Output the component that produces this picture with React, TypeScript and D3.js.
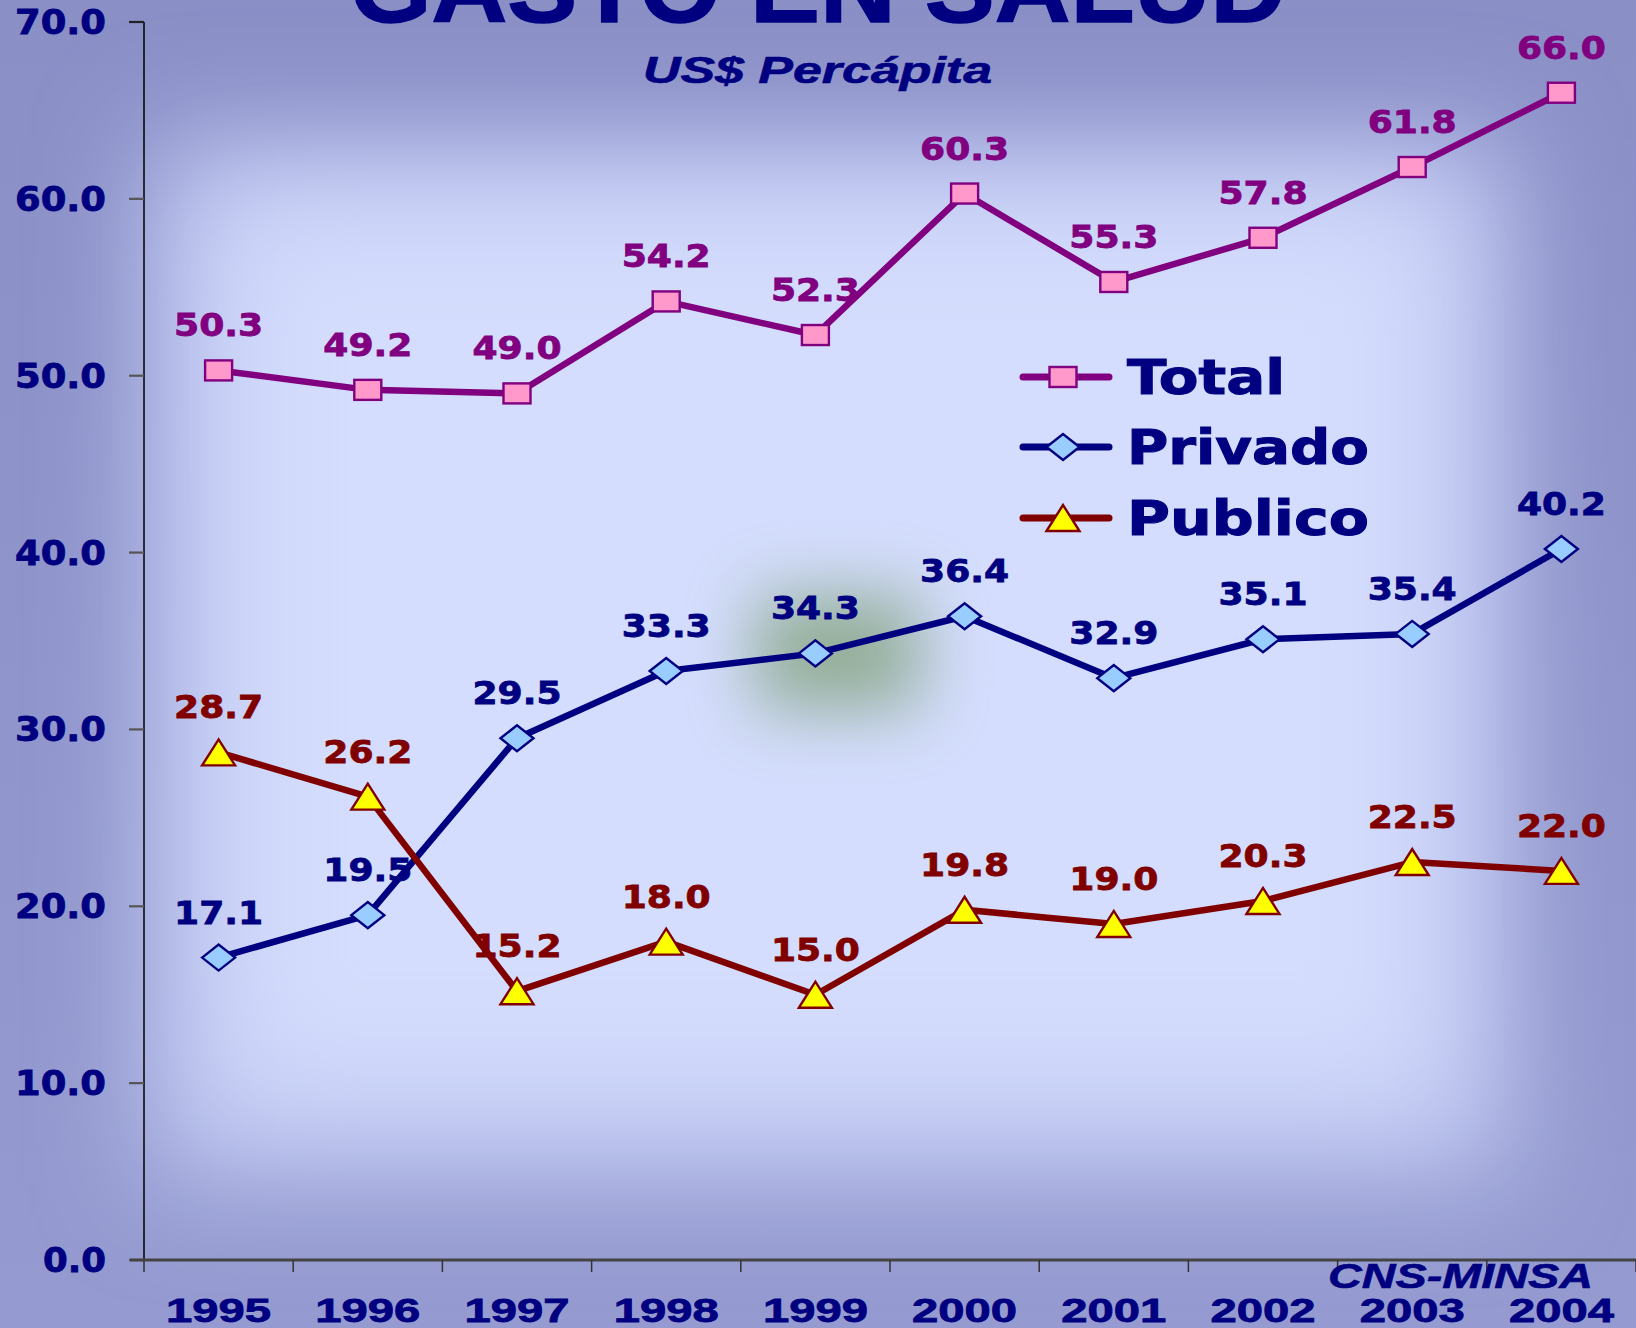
import React from "react";
import * as d3 from "d3";

const years = ["1995", "1996", "1997", "1998", "1999", "2000", "2001", "2002", "2003", "2004"];
const totalValues = [50.3, 49.2, 49.0, 54.2, 52.3, 60.3, 55.3, 57.8, 61.8, 66.0];
const privadoValues = [17.1, 19.5, 29.5, 33.3, 34.3, 36.4, 32.9, 35.1, 35.4, 40.2];
const publicoValues = [28.7, 26.2, 15.2, 18.0, 15.0, 19.8, 19.0, 20.3, 22.5, 22.0];
const yTicks = [0, 10, 20, 30, 40, 50, 60, 70];
const seriesNames = ["Total", "Privado", "Publico"];

const W = 1636;
const H = 1328;
const NAVY = "#000080";

type Series = {
  name: string;
  values: number[];
  line: string;
  fill: string;
  marker: "square" | "diamond" | "triangle";
  labelColor: string;
};

const series: Series[] = [
  { name: seriesNames[0], values: totalValues, line: "#800080", fill: "#ff99cc", marker: "square", labelColor: "#800080" },
  { name: seriesNames[1], values: privadoValues, line: "#000080", fill: "#99ccff", marker: "diamond", labelColor: "#000080" },
  { name: seriesNames[2], values: publicoValues, line: "#800000", fill: "#ffff00", marker: "triangle", labelColor: "#800000" },
];

function Marker({ kind, x, y, fill, stroke }: { kind: string; x: number; y: number; fill: string; stroke: string }) {
  if (kind === "square") {
    return <rect x={x - 13.5} y={y - 10} width={27} height={20} fill={fill} stroke={stroke} strokeWidth={2.4} />;
  }
  if (kind === "diamond") {
    const w = 16.5, h = 13;
    return (
      <path d={`M${x - w},${y} L${x},${y - h} L${x + w},${y} L${x},${y + h} Z`} fill={fill} stroke={stroke} strokeWidth={2.4} />
    );
  }
  const w = 16.5, h = 13;
  return (
    <path d={`M${x - w},${y + h} L${x},${y - h} L${x + w},${y + h} Z`} fill={fill} stroke={stroke} strokeWidth={2.4} />
  );
}

export default function App() {
  const x = d3.scaleBand<string>().domain(years).range([144, 1636]).paddingInner(0).paddingOuter(0);
  const y = d3.scaleLinear().domain([0, 70]).range([1260, 22]);
  const cx = (yr: string) => (x(yr) as number) + x.bandwidth() / 2;

  const line = d3
    .line<number>()
    .x((_, i) => cx(years[i]))
    .y((v) => y(v));

  const boundaries = years.map((yr) => x(yr) as number).concat([1636]);
  const dv = "'DejaVu Sans', Verdana, sans-serif";
  const ar = "'Liberation Sans', Arial, sans-serif";

  return (
    <div style={{ position: "absolute", left: 0, top: 0, width: W, height: H, overflow: "hidden" }}>
      <svg width={W} height={H} viewBox={`0 0 ${W} ${H}`} style={{ display: "block" }}>
        <defs>
          <filter id="bgblur" x="-50%" y="-50%" width="200%" height="200%">
            <feGaussianBlur stdDeviation="55" />
          </filter>
          <filter id="greenblur" x="-100%" y="-100%" width="300%" height="300%">
            <feGaussianBlur stdDeviation="34" />
          </filter>
          <linearGradient id="baseGrad" x1="0" y1="0" x2="0" y2="1">
            <stop offset="0" stopColor="#8a8fc6" />
            <stop offset="1" stopColor="#959bd0" />
          </linearGradient>
        </defs>

        {/* background */}
        <rect x={0} y={0} width={W} height={H} fill="url(#baseGrad)" />
        <rect x={150} y={140} width={1360} height={1040} fill="#c0c8f2" filter="url(#bgblur)" />
        <rect x={230} y={210} width={1200} height={880} fill="#d4ddfd" filter="url(#bgblur)" />
        {/* green glow */}
        <rect x={755} y={595} width={165} height={115} fill="#6f9460" opacity={0.65} filter="url(#greenblur)" />

        {/* y axis */}
        <line x1={144} y1={22} x2={144} y2={1260} stroke="#000" strokeWidth={1.5} />
        {yTicks.map((t) => (
          <g key={t}>
            <line x1={129} y1={y(t)} x2={144} y2={y(t)} stroke={t === 70 ? "#222" : "#555"} strokeWidth={2.2} />
            <text
              x={106}
              y={y(t) + 12}
              textAnchor="end"
              fontFamily={dv}
              fontWeight="bold"
              fontSize={33}
              fill={NAVY}
              stroke={NAVY}
              strokeWidth={0.8}
              textLength={t === 0 ? 63 : 91}
              lengthAdjust="spacingAndGlyphs"
            >
              {t.toFixed(1)}
            </text>
          </g>
        ))}

        {/* x axis */}
        <line x1={130} y1={1260} x2={1636} y2={1260} stroke="#444" strokeWidth={3} />
        {boundaries.map((b, i) => (
          <line key={i} x1={b} y1={1260} x2={b} y2={1272} stroke="#333" strokeWidth={1.5} />
        ))}
        {years.map((yr) => (
          <text
            key={yr}
            x={cx(yr)}
            y={1322}
            textAnchor="middle"
            fontFamily={ar}
            fontWeight="bold"
            fontSize={33}
            fill={NAVY}
            stroke={NAVY}
            strokeWidth={0.8}
            textLength={105}
            lengthAdjust="spacingAndGlyphs"
          >
            {yr}
          </text>
        ))}

        {/* lines */}
        {series.map((s) => (
          <path key={s.name} d={line(s.values) || ""} fill="none" stroke={s.line} strokeWidth={6.5} strokeLinejoin="round" />
        ))}
        {/* markers */}
        {series.map((s) =>
          s.values.map((v, i) => (
            <Marker key={s.name + i} kind={s.marker} x={cx(years[i])} y={y(v)} fill={s.fill} stroke={s.line} />
          ))
        )}
        {/* data labels */}
        {series.map((s) =>
          s.values.map((v, i) => (
            <text
              key={"l" + s.name + i}
              x={cx(years[i])}
              y={y(v) - 34}
              textAnchor="middle"
              fontFamily={dv}
              fontWeight="bold"
              fontSize={32}
              fill={s.labelColor}
              stroke={s.labelColor}
              strokeWidth={0.8}
              textLength={89}
              lengthAdjust="spacingAndGlyphs"
            >
              {v.toFixed(1)}
            </text>
          ))
        )}

        {/* legend */}
        {series.map((s, i) => {
          const ly = [377, 447, 518][i];
          const tw = [158, 242, 242][i];
          return (
            <g key={"leg" + s.name}>
              <line x1={1023} y1={ly} x2={1109} y2={ly} stroke={s.line} strokeWidth={7} strokeLinecap="round" />
              <Marker kind={s.marker} x={1063} y={ly} fill={s.fill} stroke={s.line} />
              <text
                x={1127}
                y={ly + 17}
                fontFamily={dv}
                fontWeight="bold"
                fontSize={48}
                fill={NAVY}
                stroke={NAVY}
                strokeWidth={1}
                textLength={tw}
                lengthAdjust="spacingAndGlyphs"
              >
                {s.name}
              </text>
            </g>
          );
        })}

        {/* title */}
        <text
          x={350}
          y={22}
          fontFamily={ar}
          fontWeight="bold"
          fontSize={100}
          fill={NAVY}
          stroke={NAVY}
          strokeWidth={1.5}
          textLength={936}
          lengthAdjust="spacingAndGlyphs"
        >
          GASTO EN SALUD
        </text>
        <text
          x={643}
          y={83}
          fontFamily={ar}
          fontWeight="bold"
          fontStyle="italic"
          fontSize={36}
          fill={NAVY}
          stroke={NAVY}
          strokeWidth={0.6}
          textLength={349}
          lengthAdjust="spacingAndGlyphs"
        >
          US$ Percápita
        </text>

        {/* source */}
        <text
          x={1328}
          y={1288}
          fontFamily={ar}
          fontWeight="bold"
          fontStyle="italic"
          fontSize={35}
          fill={NAVY}
          stroke={NAVY}
          strokeWidth={0.6}
          textLength={265}
          lengthAdjust="spacingAndGlyphs"
        >
          CNS-MINSA
        </text>
      </svg>
    </div>
  );
}
